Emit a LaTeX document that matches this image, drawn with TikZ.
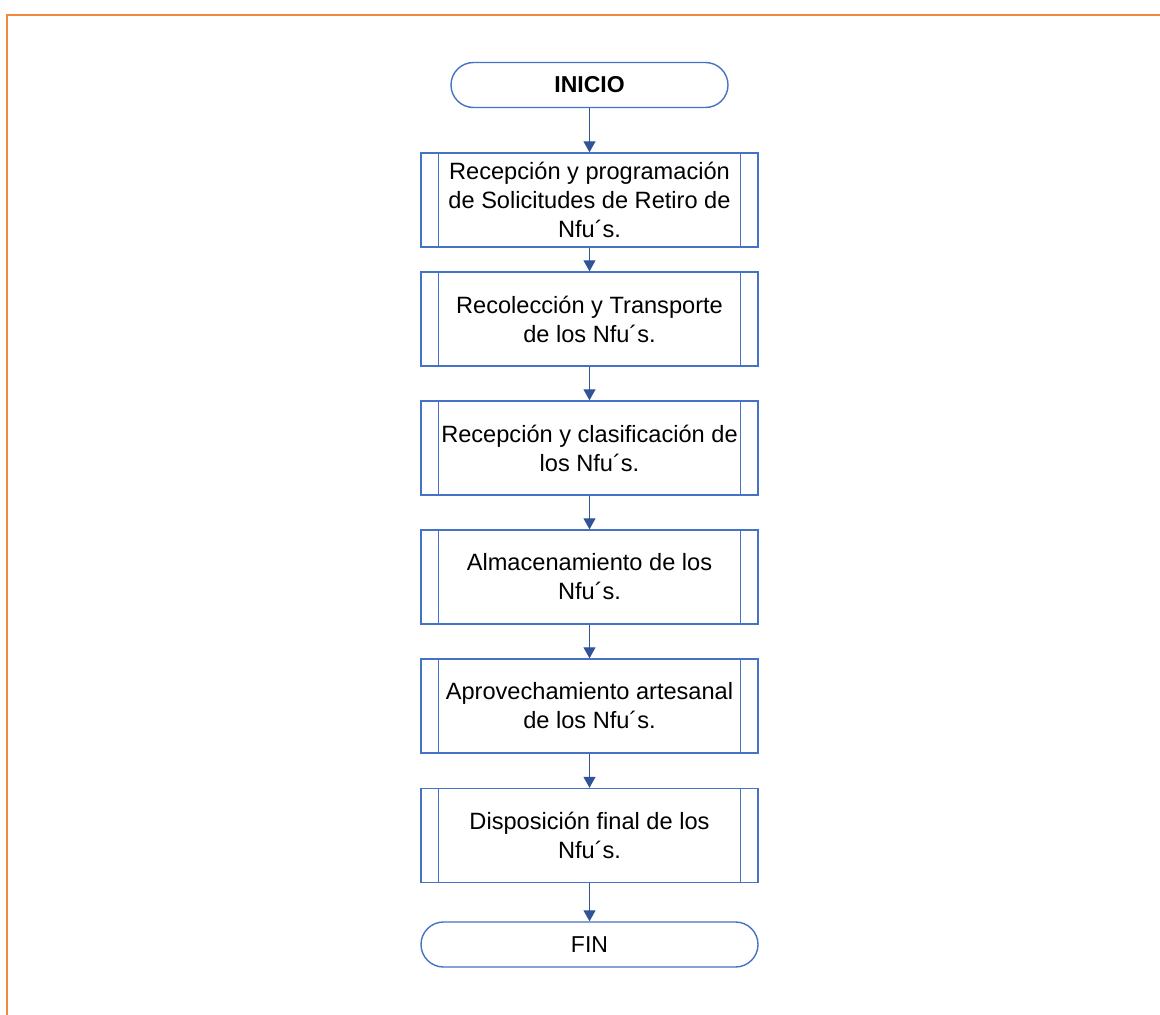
\documentclass[tikz,border=0pt]{standalone}
\usepackage{fontspec}
\setmainfont{Liberation Sans}
\usetikzlibrary{arrows.meta}
\definecolor{frameorange}{HTML}{F0883E}
\definecolor{boxblue}{HTML}{4472C4}
\definecolor{arrowblue}{HTML}{2F5597}
\tikzset{
  terminal/.style={draw=boxblue, line width=1.4pt, rounded corners=22.5pt,
    minimum width=277pt, minimum height=45pt, inner sep=0pt,
    font=\fontsize{23}{28}\selectfont},
  process/.style={draw=boxblue, line width=1.4pt, minimum width=337pt,
    minimum height=94pt, inner sep=0pt, align=center,
    font=\fontsize{23.6}{29}\selectfont},
  sideline/.style={draw=boxblue, line width=1.1pt},
  flow/.style={draw=arrowblue, line width=1.2pt,
    -{Triangle[length=11pt,width=12pt]}}
}
\begin{document}
\begin{tikzpicture}[x=1pt, y=-1pt]
  \useasboundingbox (0,0) rectangle (1160,1015);
  % page frame
  \draw[frameorange, line width=2pt] (7,1016) -- (7,15) -- (1161,15);

  \node[terminal, minimum width=277pt] (inicio) at (589.5,85) {\textbf{INICIO}};
  \node[process] (p1) at (589.5,200) {Recepción y programación\\de Solicitudes de Retiro de\\Nfu´s.};
  \node[process] (p2) at (589.5,319) {Recolección y Transporte\\de los Nfu´s.};
  \node[process] (p3) at (589.5,448) {Recepción y clasificación de\\los Nfu´s.};
  \node[process] (p4) at (589.5,577) {Almacenamiento de los\\Nfu´s.};
  \node[process] (p5) at (589.5,706) {Aprovechamiento artesanal\\de los Nfu´s.};
  \node[process] (p6) at (589.5,835.5) {Disposición final de los\\Nfu´s.};
  \node[terminal, minimum width=337pt] (fin) at (589.5,944.5) {FIN};

  % inner side bars of the predefined-process boxes
  \foreach \p in {p1,p2,p3,p4,p5,p6}{
    \draw[sideline] ([xshift=18pt]\p.north west) -- ([xshift=18pt]\p.south west);
    \draw[sideline] ([xshift=-18pt]\p.north east) -- ([xshift=-18pt]\p.south east);
  }

  \draw[flow] (inicio) -- (p1);
  \draw[flow] (p1) -- (p2);
  \draw[flow] (p2) -- (p3);
  \draw[flow] (p3) -- (p4);
  \draw[flow] (p4) -- (p5);
  \draw[flow] (p5) -- (p6);
  \draw[flow] (p6) -- (fin);
\end{tikzpicture}
\end{document}
